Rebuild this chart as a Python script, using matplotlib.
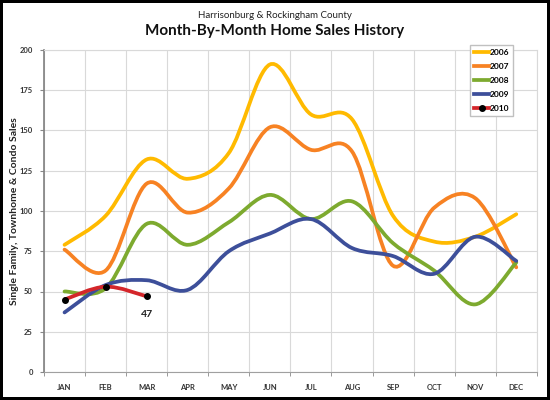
import numpy as np
import matplotlib
matplotlib.use("Agg")
import matplotlib.pyplot as plt
from matplotlib.path import Path
from matplotlib.patches import PathPatch
from matplotlib.lines import Line2D

plt.rcParams['font.family'] = ['Lato', 'DejaVu Sans']

months = ["JAN", "FEB", "MAR", "APR", "MAY", "JUN", "JUL", "AUG", "SEP", "OCT", "NOV", "DEC"]
sales_2006 = [79, 97, 132, 120, 136, 191, 160, 157, 97, 81, 84, 98]
sales_2007 = [76, 63, 117, 99, 114, 152, 138, 137, 66, 102, 108, 65]
sales_2008 = [50, 52, 92, 79, 93, 110, 95, 106, 80, 63, 42, 68]
sales_2009 = [37, 54, 57, 51, 75, 86, 95, 77, 72, 61, 84, 69]
sales_2010 = [45, 53, 47]

series = [("2006", sales_2006, "#FFBA00"),
          ("2007", sales_2007, "#F78223"),
          ("2008", sales_2008, "#7DAA2F"),
          ("2009", sales_2009, "#3D4F9A"),
          ("2010", sales_2010, "#D4262A")]


def smooth_path(x, y):
    # excel-style smoothed line: cubic bezier segments through each point
    pts = np.column_stack([x, y]).astype(float)
    n = len(pts)
    verts = [pts[0]]
    codes = [Path.MOVETO]
    for i in range(n - 1):
        p0 = pts[max(i - 1, 0)]
        p1 = pts[i]
        p2 = pts[i + 1]
        p3 = pts[min(i + 2, n - 1)]
        verts += [p1 + (p2 - p0) / 6.0, p2 - (p3 - p1) / 6.0, p2]
        codes += [Path.CURVE4] * 3
    return Path(verts, codes)


fig = plt.figure(figsize=(5.5, 4), dpi=100)
fig.patch.set_edgecolor("black")
fig.patch.set_linewidth(3)
ax = fig.add_axes([0.08, 0.07, 0.896, 0.805])

handles = []
for name, vals, col in series:
    x = np.arange(len(vals)) + 0.5
    ax.add_patch(PathPatch(smooth_path(x, vals), facecolor="none", edgecolor=col,
                           lw=2.7, capstyle="round", zorder=3))
    if name == "2010":
        ax.plot(x, vals, linestyle="none", marker="o", ms=4, color="black", zorder=4)
        handles.append(Line2D([], [], color=col, lw=2.7, marker="o", ms=4,
                              mfc="black", mec="black"))
    else:
        handles.append(Line2D([], [], color=col, lw=2.7))

ax.annotate(str(sales_2010[-1]), (2.5, sales_2010[-1]), xytext=(0, -13),
            textcoords="offset points", ha="center", va="center",
            fontsize=7.5, fontweight="bold", color="#222222")

ax.set_xlim(0, 12)
ax.set_ylim(0, 200)
ax.set_yticks(np.arange(0, 201, 25))
ax.set_xticks(np.arange(12) + 0.5)
ax.set_xticklabels(months)
ax.set_xticks(np.arange(13), minor=True)
ax.tick_params(axis="x", which="major", length=0, pad=9, labelsize=5.5, labelcolor="#333333")
ax.tick_params(axis="x", which="minor", length=3, color="#888888")
ax.tick_params(axis="y", length=3, color="#888888", labelsize=5.5, labelcolor="#333333", pad=5)
for lab in ax.get_xticklabels() + ax.get_yticklabels():
    lab.set_fontweight("bold")
ax.grid(True, which="minor", axis="x", color="#D9D9D9", lw=0.8)
ax.grid(True, which="major", axis="y", color="#D9D9D9", lw=0.8)
ax.set_axisbelow(True)
for s in ["top", "right"]:
    ax.spines[s].set_color("#D9D9D9")
    ax.spines[s].set_linewidth(0.8)
ax.spines["left"].set_color("#808080")
ax.spines["bottom"].set_color("#A0A0A0")
ax.spines["left"].set_linewidth(1.2)

ax.set_ylabel("Single Family, Townhome & Condo Sales", fontsize=7.5, fontweight="bold",
              color="#222222")
ax.yaxis.set_label_coords(-0.05, 0.5)

leg = fig.legend(handles, [s[0] for s in series], loc="upper left",
                 bbox_to_anchor=(0.855, 0.887), fontsize=6, handlelength=1.8,
                 handletextpad=0.1, labelspacing=0.85, borderpad=0.45,
                 borderaxespad=0, fancybox=False, framealpha=1, edgecolor="#C0C0C0")
for t in leg.get_texts():
    t.set_fontweight("bold")

fig.text(0.5, 0.962, "Harrisonburg & Rockingham County", ha="center", va="center",
         fontsize=7, color="#222222")
fig.text(0.5, 0.922, "Month-By-Month Home Sales History", ha="center", va="center",
         fontsize=11, fontweight="bold", color="#111111")

fig.savefig("out.png", dpi=100, edgecolor=fig.get_edgecolor())
